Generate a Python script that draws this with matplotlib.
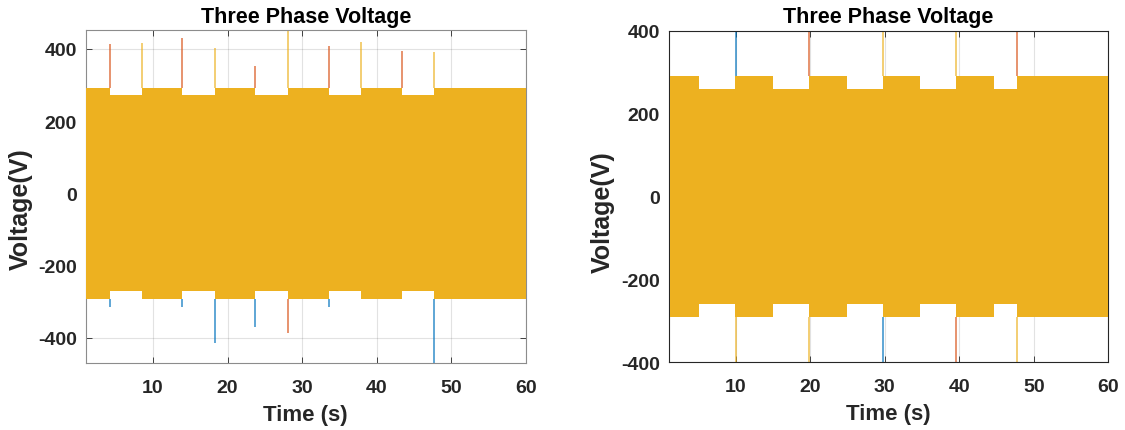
import matplotlib
matplotlib.use("Agg")
import matplotlib.pyplot as plt
import numpy as np

plt.rcParams['font.family'] = ['Liberation Sans', 'DejaVu Sans']
plt.rcParams['font.weight'] = 'bold'
plt.rcParams['axes.unicode_minus'] = False

# phase colours
c_a = '#0072BD'
c_b = '#D95319'
c_c = '#EDB120'

# ---- left case: envelope of the three phase voltage (switching instants, V)
left_t = [1.0, 4.2, 8.55, 13.95, 18.3, 23.7, 28.1, 33.55, 37.9, 43.35, 47.65, 60.0]
left_upper = [292, 271, 292, 271, 292, 271, 292, 271, 292, 271, 292]
left_lower = [-292, -270, -292, -270, -292, -270, -292, -270, -292, -270, -292]

# transient spikes at the switching instants: time, peak voltage, phase
left_spike_t = [4.2, 8.55, 13.95, 18.3, 23.7, 28.1, 33.55, 37.9, 43.35, 47.65,
                4.2, 13.95, 18.3, 23.7, 28.1, 33.55, 47.65]
left_spike_v = [412, 416, 430, 402, 351, 460, 409, 418, 395, 391,
                -315, -315, -414, -369, -387, -315, -480]
left_spike_c = ['b', 'c', 'b', 'c', 'b', 'c', 'b', 'c', 'b', 'c',
                'a', 'a', 'a', 'a', 'b', 'a', 'a']

# ---- right case
right_t = [1.2, 5.05, 9.95, 15.0, 19.85, 24.95, 29.7, 34.7, 39.55, 44.6, 47.7, 60.0]
right_upper = [291, 259, 291, 259, 291, 259, 291, 259, 291, 259, 291]
right_lower = [-291, -260, -291, -260, -291, -260, -291, -260, -291, -260, -291]

right_spike_t = [1.05, 10.05, 19.85, 29.75, 39.6, 47.75,
                 1.05, 10.05, 19.85, 29.75, 39.6, 47.75]
right_spike_v = [420, 420, 420, 420, 420, 420,
                 -420, -420, -420, -420, -420, -420]
right_spike_c = ['b', 'a', 'b', 'c', 'c', 'b',
                 'c', 'c', 'c', 'a', 'b', 'c']

colours = {'a': c_a, 'b': c_b, 'c': c_c}


def draw(ax, t, upper, lower, st, sv, sc, ylim, yticks, spine_col):
    up = upper + [upper[-1]]
    lo = lower + [lower[-1]]
    for x, v, c in zip(st, sv, sc):
        i = np.searchsorted(t, x, side='right') - 1
        i = min(max(i, 0), len(upper) - 1)
        base = max(up[i], up[max(i - 1, 0)]) if v > 0 else min(lo[i], lo[max(i - 1, 0)])
        ax.vlines(x, base, v, color=colours[c], lw=1.1, alpha=0.8, zorder=2)
    ax.fill_between(t, lo, up, step='post', color=c_c, lw=0, zorder=3)
    ax.set_xlim(1, 60)
    ax.set_ylim(*ylim)
    ax.set_xticks([10, 20, 30, 40, 50, 60])
    ax.set_yticks(yticks)
    ax.grid(True, color='#262626', alpha=0.13, lw=0.8)
    ax.set_axisbelow(True)
    ax.tick_params(direction='in', labelsize=14, colors='#262626',
                   length=4, width=0.6, top=True, right=True)
    ax.tick_params(axis='x', pad=11)
    ax.tick_params(axis='y', pad=6.5)
    for s in ax.spines.values():
        s.set_color(spine_col)
        s.set_linewidth(0.8)
    ax.set_title('Three Phase Voltage', fontsize=15.5, fontweight='bold', pad=6)
    ax.set_xlabel('Time (s)', fontsize=16, fontweight='bold', color='#262626', labelpad=6)
    ax.set_ylabel('Voltage(V)', fontsize=18, fontweight='bold', color='#262626')


fig = plt.figure(figsize=(11.25, 4.31), dpi=100)
ax1 = fig.add_axes([0.0764, 0.1548, 0.3908, 0.7733])
ax2 = fig.add_axes([0.5944, 0.1571, 0.3908, 0.7694])

draw(ax1, left_t, left_upper, left_lower, left_spike_t, left_spike_v, left_spike_c,
     (-470, 452), [-400, -200, 0, 200, 400], '#8c8c8c')
draw(ax2, right_t, right_upper, right_lower, right_spike_t, right_spike_v, right_spike_c,
     (-400, 400), [-400, -200, 0, 200, 400], '#262626')
ax1.yaxis.set_label_coords(-0.12, 0.465)
ax2.yaxis.set_label_coords(-0.122, 0.457)

fig.savefig('out.png', dpi=100)
